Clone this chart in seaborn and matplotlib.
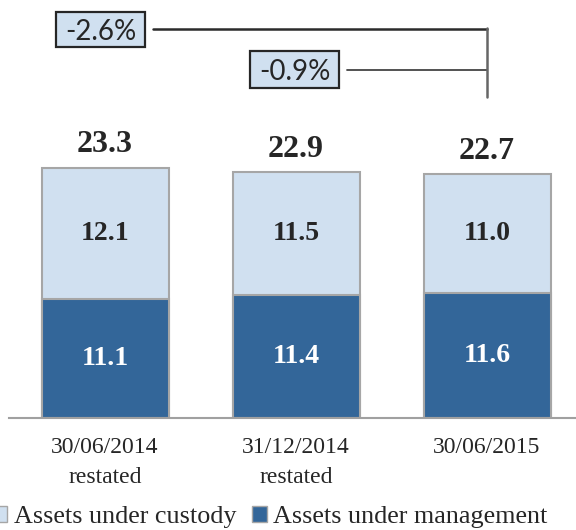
import matplotlib
matplotlib.use("Agg")
import matplotlib.pyplot as plt
import seaborn as sns
import pandas as pd
from matplotlib.lines import Line2D
from matplotlib.patches import Patch, Rectangle

# ---- data ----
categories = ["30/06/2014\nrestated", "31/12/2014\nrestated", "30/06/2015"]
custody = [12.1, 11.5, 11.0]
management = [11.1, 11.4, 11.6]
totals = [23.3, 22.9, 22.7]
changes = ["-2.6%", "-0.9%"]
series_names = ["Assets under custody", "Assets under management"]

LIGHT = "#D0E0F0"
DARK = "#336699"
EDGE = "#A6A6A6"
TXT = "#262626"

sns.set_theme(style="white")
plt.rcParams["font.family"] = ["Liberation Serif", "DejaVu Serif"]

W, H = 576, 530
fig = plt.figure(figsize=(W / 100, H / 100), dpi=100)

base_px = 418
left_px, right_px = 9, 576
ax = fig.add_axes([left_px / W, 1 - base_px / H, (right_px - left_px) / W, base_px / H])

df = pd.DataFrame({"cat": categories, "total": totals, "management": management, "custody": custody})

sns.barplot(data=df, x="cat", y="total", color=LIGHT, width=0.665, ax=ax,
            edgecolor=EDGE, linewidth=1.5, saturation=1)
sns.barplot(data=df, x="cat", y="management", color=DARK, width=0.665, ax=ax,
            edgecolor=EDGE, linewidth=1.5, saturation=1)

px_per_unit = 10.75
ax.set_ylim(0, base_px / px_per_unit)
ax.set_xlim(-0.503, 2.466)

for s in ["top", "right", "left"]:
    ax.spines[s].set_visible(False)
ax.spines["bottom"].set_color("#A0A0A0")
ax.spines["bottom"].set_linewidth(1.5)
ax.set_yticks([])
ax.set_xlabel("")
ax.set_ylabel("")
ax.tick_params(axis="x", length=0, pad=14, labelsize=17, labelcolor=TXT)
for lbl in ax.get_xticklabels():
    lbl.set_linespacing(1.55)

for i in range(len(categories)):
    ax.annotate(f"{totals[i]:.1f}", (i, totals[i]), xytext=(0, 11), textcoords="offset points",
                ha="center", va="baseline", fontsize=23, fontweight="bold", color=TXT)
    ax.text(i, management[i] + (totals[i] - management[i]) / 2, f"{custody[i]:.1f}",
            ha="center", va="center", fontsize=20, fontweight="bold", color=TXT)
    ax.text(i, management[i] / 2, f"{management[i]:.1f}",
            ha="center", va="center", fontsize=20, fontweight="bold", color="white")

# ---- change brackets (figure pixel coords) ----
def fx(x):
    return x / W

def fy(y):
    return 1 - y / H

vx = 487
fig.add_artist(Line2D([fx(153), fx(vx)], [fy(29), fy(29)], color="#2b2b2b", lw=1.8))
fig.add_artist(Line2D([fx(347), fx(vx)], [fy(70), fy(70)], color="#444444", lw=1.3))
fig.add_artist(Line2D([fx(vx), fx(vx)], [fy(28), fy(97)], color="#666666", lw=1.8))

boxes = [(56, 12, 145, 47), (250, 51, 339, 88)]
for (x0, y0, x1, y1), lab in zip(boxes, changes):
    fig.add_artist(Rectangle((fx(x0), fy(y1)), fx(x1 - x0), (y1 - y0) / H,
                             facecolor=LIGHT, edgecolor=TXT, linewidth=1.6))
    fig.text(fx((x0 + x1) / 2), fy((y0 + y1) / 2), lab, ha="center", va="center_baseline",
             fontsize=20, family=["Lato", "DejaVu Sans"], color=TXT)

handles = [Patch(facecolor=LIGHT, edgecolor=EDGE, linewidth=1),
           Patch(facecolor=DARK, edgecolor=EDGE, linewidth=1)]
fig.legend(handles, series_names, loc="center left", bbox_to_anchor=(-0.012, fy(517)), ncol=2,
           frameon=False, fontsize=18.8, handlelength=0.55, handleheight=0.55, handletextpad=0.25,
           columnspacing=0.6, labelcolor=TXT, borderaxespad=0, borderpad=0)

fig.savefig("out.png", dpi=100)
